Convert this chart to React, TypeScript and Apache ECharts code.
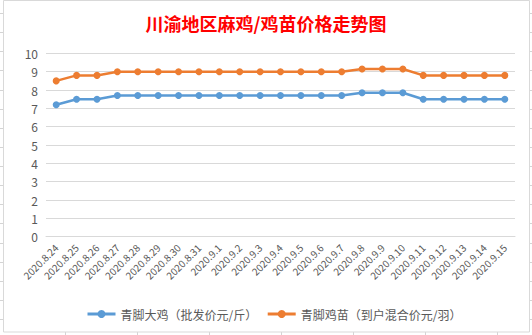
import React, { useEffect, useRef } from "react";
import * as echarts from "echarts";

const categories = [
  "2020.8.24", "2020.8.25", "2020.8.26", "2020.8.27", "2020.8.28", "2020.8.29",
  "2020.8.30", "2020.8.31", "2020.9.1", "2020.9.2", "2020.9.3", "2020.9.4",
  "2020.9.5", "2020.9.6", "2020.9.7", "2020.9.8", "2020.9.9", "2020.9.10",
  "2020.9.11", "2020.9.12", "2020.9.13", "2020.9.14", "2020.9.15",
];
const chickenPrice = [
  7.2, 7.5, 7.5, 7.7, 7.7, 7.7, 7.7, 7.7, 7.7, 7.7, 7.7, 7.7,
  7.7, 7.7, 7.7, 7.85, 7.85, 7.85, 7.5, 7.5, 7.5, 7.5, 7.5,
];
const chickPrice = [
  8.5, 8.8, 8.8, 9.0, 9.0, 9.0, 9.0, 9.0, 9.0, 9.0, 9.0, 9.0,
  9.0, 9.0, 9.0, 9.15, 9.15, 9.15, 8.8, 8.8, 8.8, 8.8, 8.8,
];
const seriesNames = ["青脚大鸡（批发价元/斤）", "青脚鸡苗（到户混合价元/羽）"];
const titleText = "川渝地区麻鸡/鸡苗价格走势图";

const FONT = "'Noto Sans CJK SC', 'Noto Sans', sans-serif";

export default function App() {
  const ref = useRef<HTMLDivElement>(null);
  useEffect(() => {
    document.body.style.margin = "0";
    const chart = echarts.init(ref.current!, null, { renderer: "svg" });
    const bg: any[] = [];
    const sheetX = [65.5, 137.5, 209.5, 281.5, 353.5, 425.5, 497.5];
    sheetX.forEach((x) =>
      bg.push({ type: "line", z: -20, silent: true, shape: { x1: x, y1: 0, x2: x, y2: 335 }, style: { stroke: "#D4D4D4", lineWidth: 1 } })
    );
    for (let k = 0; k <= 16; k++) {
      const y = Math.round(13 + 19.125 * k) + 0.5;
      bg.push({ type: "line", z: -20, silent: true, shape: { x1: 0, y1: y, x2: 532, y2: y }, style: { stroke: "#D4D4D4", lineWidth: 1 } });
    }
    bg.push({
      type: "rect", z: -10, silent: true,
      shape: { x: 3.5, y: 0.5, width: 526, height: 331.5 },
      style: { fill: "#FFFFFF", stroke: "#D9D9D9", lineWidth: 1 },
    });
    chart.setOption({
      animation: false,
      textStyle: { fontFamily: FONT },
      graphic: { elements: bg },
      title: {
        text: titleText,
        left: "center",
        top: 9,
        textStyle: { color: "#FF0000", fontSize: 18, fontWeight: "bold", fontFamily: FONT },
      },
      legend: {
        data: seriesNames,
        left: 81,
        top: 303,
        itemWidth: 28,
        itemHeight: 10,
        itemGap: 9,
        lineStyle: { width: 3 },
        textStyle: { color: "#595959", fontSize: 12, fontFamily: FONT },
      },
      grid: { left: 46, right: 17, top: 53.4, bottom: 98.3, containLabel: false },
      xAxis: {
        type: "category",
        data: categories,
        boundaryGap: true,
        axisLine: { lineStyle: { color: "#D9D9D9" } },
        axisTick: { show: false },
        axisLabel: { interval: 0, rotate: 45, color: "#595959", fontSize: 10, margin: 9, fontFamily: FONT },
      },
      yAxis: {
        type: "value",
        min: 0,
        max: 10,
        interval: 1,
        axisLine: { show: false },
        axisTick: { show: false },
        axisLabel: { color: "#595959", fontSize: 12, margin: 8, fontFamily: FONT },
        splitLine: { lineStyle: { color: "#D9D9D9" } },
      },
      series: [
        {
          name: seriesNames[0],
          type: "line",
          data: chickenPrice,
          symbol: "circle",
          symbolSize: 7,
          itemStyle: { color: "#5B9BD5" },
          lineStyle: { color: "#5B9BD5", width: 2.5 },
        },
        {
          name: seriesNames[1],
          type: "line",
          data: chickPrice,
          symbol: "circle",
          symbolSize: 7,
          itemStyle: { color: "#ED7D31" },
          lineStyle: { color: "#ED7D31", width: 2.5 },
        },
      ],
    });
    return () => chart.dispose();
  }, []);
  return <div ref={ref} style={{ width: 532, height: 335 }} />;
}
